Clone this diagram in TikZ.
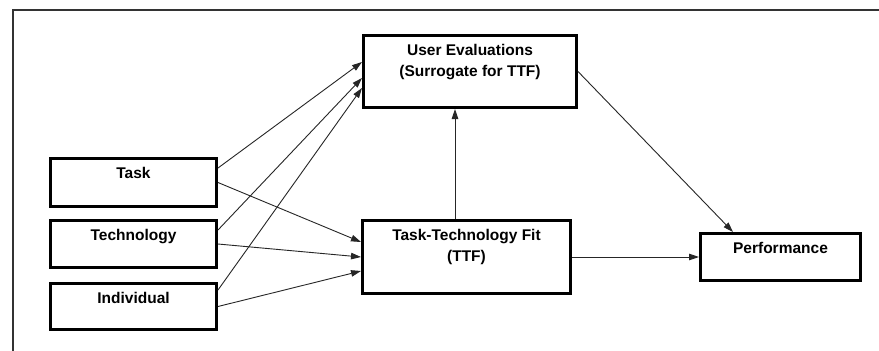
\documentclass[tikz,border=0pt]{standalone}
\usepackage{fontspec}
\setmainfont{Liberation Sans}
\usetikzlibrary{arrows.meta}
\begin{document}
\begin{tikzpicture}[x=1pt,y=-1pt,
  box/.style={draw=black, line width=2.6pt, rectangle, inner sep=0pt, fill=white},
  lbl/.style={font=\fontsize{15.5}{21.5}\selectfont\bfseries, align=center,
              inner sep=0pt, anchor=north, label distance=0pt, yshift=-10pt},
  arr/.style={draw=black!85, line width=0.9pt,
              -{Triangle[length=10pt,width=6.5pt]}},
  frame/.style={draw=black!80, line width=2pt}
]
\useasboundingbox (0,0) rectangle (879,351);
\fill[white] (0,0) rectangle (879,351);

% outer frame (left and top edges)
\draw[frame] (13,351) -- (13,10) -- (879,10);

% input constructs
\node[box, minimum width=166.4pt, minimum height=48.4pt,
      label={[lbl]north:Task}] (task) at (133.5,182.5) {};
\node[box, minimum width=166.4pt, minimum height=47.4pt,
      label={[lbl]north:Technology}] (tech) at (133.5,244) {};
\node[box, minimum width=166.4pt, minimum height=46.4pt,
      label={[lbl]north:Individual}] (ind) at (133.5,306.5) {};

% central constructs
\node[box, minimum width=208.4pt, minimum height=73.4pt,
      label={[lbl]north:Task-Technology Fit\\(TTF)}] (ttf) at (466.5,257) {};
\node[box, minimum width=213.4pt, minimum height=72.4pt,
      label={[lbl]north:User Evaluations\\(Surrogate for TTF)}] (ue) at (470,71.5) {};

% outcome
\node[box, minimum width=160.4pt, minimum height=47.4pt,
      label={[lbl]north:Performance}] (perf) at (780.5,257) {};

% inputs -> user evaluations
\draw[arr] ([yshift=14.5pt]task.east) -- ([yshift=9.5pt]ue.west);
\draw[arr] ([yshift=14pt]tech.east) -- ([yshift=-6.5pt]ue.west);
\draw[arr] ([yshift=16.5pt]ind.east) -- ([yshift=-16.5pt]ue.west);

% inputs -> task-technology fit
\draw[arr] (task.east) -- ([yshift=15pt]ttf.west);
\draw[arr] (tech.east) -- (ttf.west);
\draw[arr] (ind.east) -- ([yshift=-14pt]ttf.west);

% fit -> evaluations, and on to performance
\draw[arr] ([xshift=-11.5pt]ttf.north) -- ([xshift=-11.5pt]ttf.north |- ue.south);
\draw[arr] (ue.east) -- ([xshift=-47.5pt]perf.north);
\draw[arr] (ttf.east) -- (perf.west);
\end{tikzpicture}
\end{document}
